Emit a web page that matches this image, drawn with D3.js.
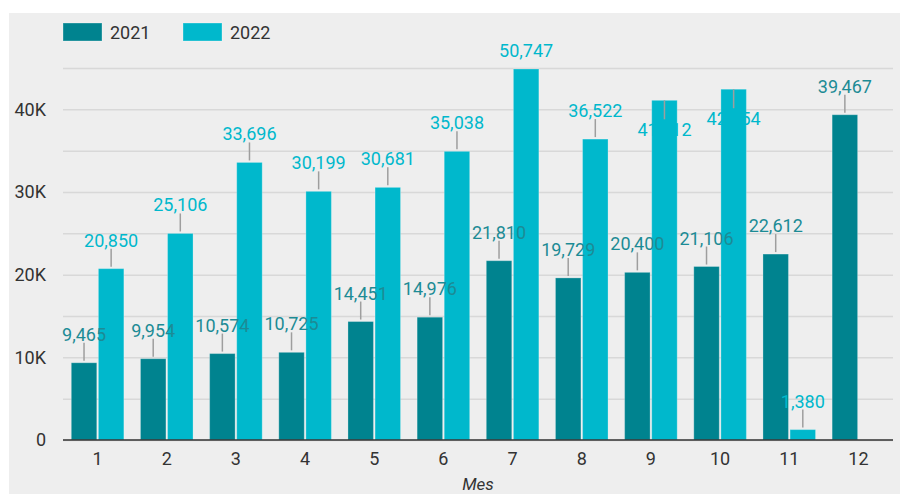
<!DOCTYPE html>
<html>
<head>
<meta charset="utf-8">
<script src="https://cdn.jsdelivr.net/npm/d3@7"></script>
<style>
  body { margin: 0; background: #ffffff; }
  svg { display: block; font-family: Roboto, "Noto Sans", sans-serif; }
</style>
</head>
<body>
<svg id="chart" width="900" height="494"></svg>
<script>
var months = ["1", "2", "3", "4", "5", "6", "7", "8", "9", "10", "11", "12"];
var series = ["2021", "2022"];
var values2021 = [9465, 9954, 10574, 10725, 14451, 14976, 21810, 19729, 20400, 21106, 22612, 39467];
var values2022 = [20850, 25106, 33696, 30199, 30681, 35038, 50747, 36522, 41212, 42554, 1380, null];
var gridTicks = [0, 5000, 10000, 15000, 20000, 25000, 30000, 35000, 40000, 45000];
var labelTicks = [0, 10000, 20000, 30000, 40000];
var colors = {"2021": "#00838f", "2022": "#00b8cc"};
var labelColors = {"2021": "#1c8b95", "2022": "#00b8cc"};

var svg = d3.select('#chart');
var margin = {top: 68, right: 7, bottom: 54, left: 63};
var width = 900, height = 494;

// panel background
svg.append("rect")
  .attr("x", 9).attr("y", 13)
  .attr("width", width - 9).attr("height", height - 13)
  .attr("fill", "#eeeeee");

var x = d3.scaleBand()
  .domain(months)
  .range([margin.left, width - margin.right])
  .paddingInner(0.24)
  .paddingOuter(0.12);

var x1 = d3.scaleBand()
  .domain(series)
  .range([0, x.bandwidth()])
  .paddingInner(0.06);

var y = d3.scaleLinear()
  .domain([0, 45000])
  .range([height - margin.bottom, margin.top])
  .clamp(true);

// gridlines
svg.append("g")
  .attr("transform", "translate(" + margin.left + ",0)")
  .call(d3.axisLeft(y).tickValues(gridTicks).tickSize(-(width - margin.right - margin.left)).tickFormat(""))
  .call(g => g.select(".domain").remove())
  .call(g => g.selectAll(".tick line").attr("stroke", "#d8d8d8").attr("stroke-width", 1.5));

// y labels
svg.append("g")
  .attr("transform", "translate(" + margin.left + ",0)")
  .call(d3.axisLeft(y).tickValues(labelTicks).tickSize(0).tickPadding(17)
    .tickFormat(function(d) { return d === 0 ? "0" : (d / 1000) + "K"; }))
  .call(g => g.select(".domain").remove())
  .call(g => g.selectAll(".tick text")
    .attr("font-size", "18px")
    .attr("font-family", "Roboto")
    .attr("fill", "#333333"));

var rows = [];
months.forEach(function(m, i) {
  rows.push({month: m, key: "2021", value: values2021[i]});
  if (values2022[i] !== null) rows.push({month: m, key: "2022", value: values2022[i]});
});

svg.selectAll(".bar")
  .data(rows)
  .enter().append("rect")
  .attr("class", "bar")
  .attr("x", function(d) { return x(d.month) + x1(d.key); })
  .attr("y", function(d) { return y(d.value) + 1; })
  .attr("width", x1.bandwidth())
  .attr("height", function(d) { return y(0) - y(d.value) - 1; })
  .attr("fill", function(d) { return colors[d.key]; })
  .attr("stroke", "#ffffff")
  .attr("stroke-opacity", 0.25)
  .attr("stroke-width", 1);

// baseline
svg.append("line")
  .attr("x1", margin.left).attr("x2", width - margin.right)
  .attr("y1", y(0)).attr("y2", y(0))
  .attr("stroke", "#333333").attr("stroke-width", 1.5);

// x axis labels
svg.append("g")
  .attr("transform", "translate(0," + y(0) + ")")
  .call(d3.axisBottom(x).tickSize(0).tickPadding(12))
  .call(g => g.select(".domain").remove())
  .call(g => g.selectAll(".tick text")
    .attr("font-size", "18px")
    .attr("font-family", "Roboto")
    .attr("fill", "#333333"));

svg.append("text")
  .attr("x", (margin.left + width - margin.right) / 2)
  .attr("y", 490)
  .attr("text-anchor", "middle")
  .attr("font-size", "17px")
  .attr("font-style", "italic")
  .attr("fill", "#333333")
  .text("Mes");

// data labels with leader lines
var fmt = d3.format(",");
rows.forEach(function(d) {
  var cx = x(d.month) + x1(d.key) + x1.bandwidth() / 2;
  var top = y(d.value) + 1;
  var clipped = d.value > y.domain()[1];
  var below = !clipped && (top - 36 < y.range()[1]);
  var baseline;
  if (clipped) {
    baseline = top - 12;
  } else if (below) {
    svg.append("line")
      .attr("x1", cx).attr("x2", cx)
      .attr("y1", top).attr("y2", top + 19)
      .attr("stroke", "#9e9e9e").attr("stroke-width", 1.5);
    baseline = top + 36;
  } else {
    svg.append("line")
      .attr("x1", cx).attr("x2", cx)
      .attr("y1", top - 2).attr("y2", top - 20)
      .attr("stroke", "#9e9e9e").attr("stroke-width", 1.5);
    baseline = top - 22;
  }
  svg.append("text")
    .attr("x", cx)
    .attr("y", baseline)
    .attr("text-anchor", "middle")
    .attr("font-size", "18px")
    .attr("fill", labelColors[d.key])
    .text(fmt(d.value));
});

// legend
var legend = svg.append("g").attr("transform", "translate(63,23)");
series.forEach(function(s, i) {
  var g = legend.append("g").attr("transform", "translate(" + (i * 120) + ",0)");
  g.append("rect")
    .attr("width", 39).attr("height", 18)
    .attr("fill", colors[s])
    .attr("stroke", "#ffffff").attr("stroke-opacity", 0.3);
  g.append("text")
    .attr("x", 47).attr("y", 16)
    .attr("font-size", "18px")
    .attr("fill", "#333333")
    .text(s);
});
</script>
</body>
</html>
